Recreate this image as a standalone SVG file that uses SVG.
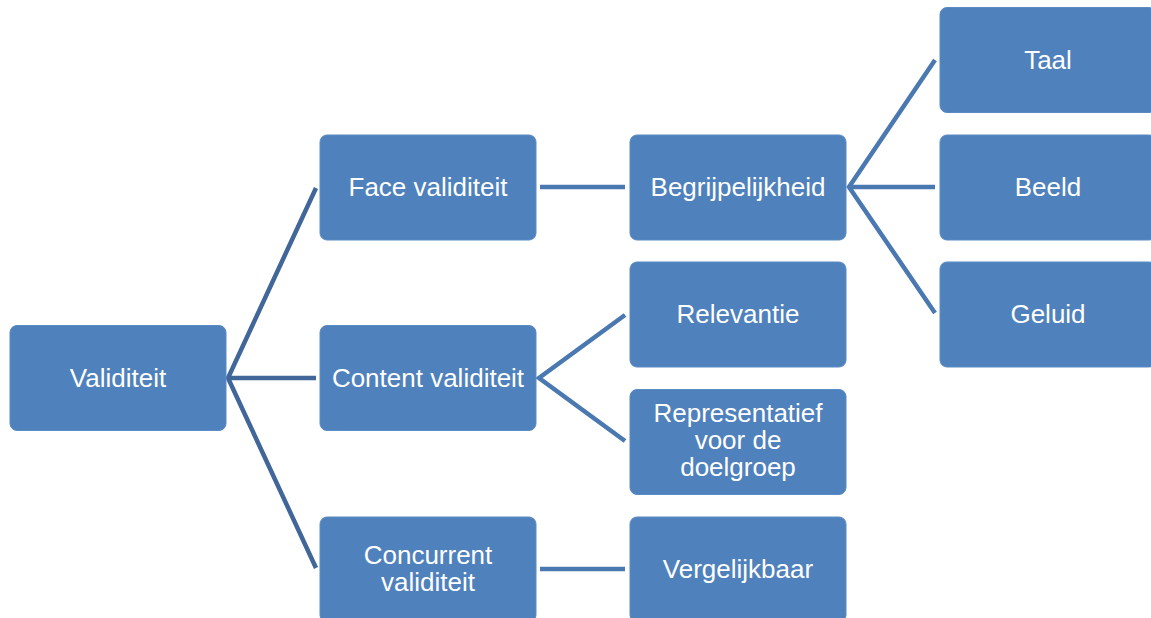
<svg xmlns="http://www.w3.org/2000/svg" width="1151" height="618" viewBox="0 0 1151 618">
<style>
.n{fill:#4F81BD;stroke:#5B8BC4;stroke-width:1}
.t{fill:#fff;font-family:"Liberation Sans",Arial,sans-serif;font-size:26px;text-anchor:middle}
.c1{stroke:#41679A;stroke-width:4.5;fill:none;stroke-linecap:butt}
.c2{stroke:#4A78B1;stroke-width:4.5;fill:none;stroke-linecap:butt}
</style>
<rect width="1151" height="618" fill="#fff"/>
<g id="connectors">
<path class="c1" d="M316,188 L228,378 L316,568 M228,378 L316,378"/>
<path class="c2" d="M540,187 L625,187"/>
<path class="c2" d="M625,315 L539,378 L625,441"/>
<path class="c2" d="M540,569 L625,569"/>
<path class="c2" d="M935,60 L849,187 L935,313 M849,187 L935,187"/>
</g>
<g id="n-validiteit"><rect class="n" x="10" y="325.5" width="216" height="105" rx="7"/><text class="t" x="118" y="387">Validiteit</text></g>
<g id="n-face"><rect class="n" x="320" y="135" width="216" height="105" rx="7"/><text class="t" x="428" y="196">Face validiteit</text></g>
<g id="n-content"><rect class="n" x="320" y="325.5" width="216" height="105" rx="7"/><text class="t" x="428" y="387">Content validiteit</text></g>
<g id="n-concurrent"><rect class="n" x="320" y="517" width="216" height="105" rx="7"/><text class="t" x="428" y="564">Concurrent</text><text class="t" x="428" y="591">validiteit</text></g>
<g id="n-begrijpelijkheid"><rect class="n" x="630" y="135" width="216" height="105" rx="7"/><text class="t" x="738" y="196">Begrijpelijkheid</text></g>
<g id="n-relevantie"><rect class="n" x="630" y="262" width="216" height="105" rx="7"/><text class="t" x="738" y="323">Relevantie</text></g>
<g id="n-representatief"><rect class="n" x="630" y="389.5" width="216" height="105" rx="7"/><text class="t" x="738" y="422">Representatief</text><text class="t" x="738" y="449">voor de</text><text class="t" x="738" y="476">doelgroep</text></g>
<g id="n-vergelijkbaar"><rect class="n" x="630" y="517" width="216" height="105" rx="7"/><text class="t" x="738" y="578">Vergelijkbaar</text></g>
<g id="n-taal"><rect class="n" x="940" y="7.5" width="216" height="105" rx="7"/><text class="t" x="1048" y="69">Taal</text></g>
<g id="n-beeld"><rect class="n" x="940" y="135" width="216" height="105" rx="7"/><text class="t" x="1048" y="196">Beeld</text></g>
<g id="n-geluid"><rect class="n" x="940" y="262" width="216" height="105" rx="7"/><text class="t" x="1048" y="323">Geluid</text></g>
</svg>
